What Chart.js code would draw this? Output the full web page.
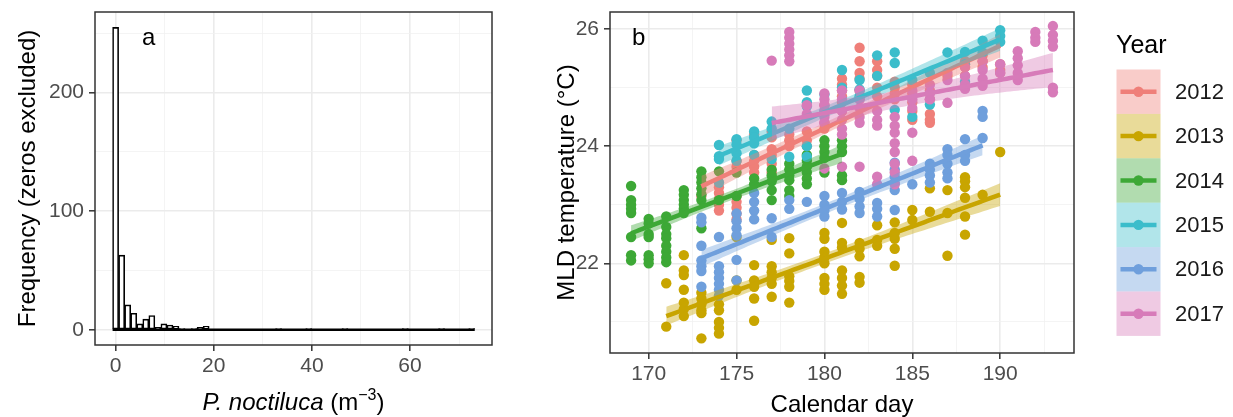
<!DOCTYPE html>
<html>
<head>
<meta charset="utf-8">
<title>P. noctiluca densities and MLD temperature</title>
<script src="https://cdn.jsdelivr.net/npm/chart.js@4.4.1/dist/chart.umd.min.js"></script>
<style>
  html, body { margin: 0; padding: 0; background: #ffffff; }
  #wrap { position: relative; width: 1233px; height: 417px; overflow: hidden; }
  #histBox { position: absolute; left: 0; top: 0; width: 500px; height: 417px; }
  #tempBox { position: absolute; left: 500px; top: 0; width: 733px; height: 417px; }
</style>
</head>
<body>
<div id="wrap">
  <div id="histBox"><canvas id="hist"></canvas></div>
  <div id="tempBox"><canvas id="temp"></canvas></div>
</div>
<script>
// ---------- Panel a: histogram of non-zero P. noctiluca densities ----------
const HIST_BIN_WIDTH = 1.23;               // m^-3 per bin, bins centred on 0, w, 2w, ...
const histCounts = [
  255, 63, 21, 14, 5, 9, 12, 2, 5, 4, 3, 1, 0, 1, 2, 3, 0, 0, 0, 0,
  0, 0, 0, 0, 0, 0, 0, 1, 0, 0, 0, 0, 1, 0, 0, 0, 0, 0, 1, 0,
  0, 0, 0, 0, 0, 0, 0, 0, 1, 0, 0, 0, 0, 0, 1, 0, 0, 0, 0, 1
];
const histXGrid = [0, 10, 20, 30, 40, 50, 60, 70];
const histXLabelled = [0, 20, 40, 60];
const histYGrid = [0, 50, 100, 150, 200, 250];
const histYLabelled = [0, 100, 200];

// ---------- Panel b: mixed-layer-depth temperature by calendar day ----------
// each row: [calendar day, temperatures (°C) measured that day ...]
const mld2012 = [
  [173, 23.15], [174, 23.3, 23.2, 23.1, 23.0, 22.9],
  [175, 24.1, 23.75, 23.65, 23.15, 23.05, 22.95, 22.85, 22.75],
  [176, 24.2, 23.85, 23.75, 23.65, 23.55], [177, 24.25, 24.15, 23.95, 23.85, 23.7, 23.55],
  [178, 24.2, 24.1, 24.0], [179, 24.25, 24.1, 24.0], [180, 24.7, 24.55, 24.4, 24.3],
  [181, 25.15, 25.05, 24.95, 24.85, 24.75, 24.6], [182, 25.68, 25.45, 25.25, 25.15, 24.95, 24.8],
  [183, 25.45, 25.3, 25.2, 25.0, 24.85], [184, 25.1, 25.0, 24.9, 24.8],
  [185, 25.05, 24.9, 24.75, 24.6, 24.45], [186, 24.95, 24.8, 24.55, 24.45, 24.4],
  [187, 25.2], [188, 25.45, 25.35, 25.2], [189, 25.55, 25.45, 25.35], [190, 25.4, 25.3, 25.25]
];
const mld2013 = [
  [171, 21.66, 20.92], [172, 22.14, 21.88, 21.8, 21.55, 21.33, 21.22, 21.1],
  [173, 21.5, 21.4, 21.3, 21.2, 21.15, 20.72], [174, 21.3, 21.2, 21.0, 20.9, 20.8],
  [175, 22.45, 21.71, 21.55], [176, 21.97, 21.71, 21.6, 21.4, 21.02],
  [177, 22.4, 21.95, 21.85, 21.75, 21.65, 21.43], [178, 22.43, 22.17, 21.78, 21.7, 21.6, 21.33],
  [180, 22.52, 22.42, 22.2, 22.1, 22.0, 21.75, 21.65, 21.55],
  [181, 22.69, 22.35, 22.27, 21.88, 21.75, 21.62, 21.48], [182, 22.35, 22.25, 22.12, 21.77, 21.67],
  [183, 22.65, 22.4, 22.3], [184, 22.7, 22.52, 22.42, 22.25, 21.96], [185, 22.91, 22.74],
  [186, 23.28, 22.88], [187, 23.25, 22.86, 22.13], [188, 23.47, 23.4, 23.3, 23.12, 22.8, 22.49],
  [189, 23.17], [190, 23.9]
];
const mld2014 = [
  [169, 23.32, 23.08, 23.0, 22.93, 22.86, 22.45, 22.14, 22.05],
  [170, 22.76, 22.68, 22.5, 22.45, 22.14, 22.07, 22.0],
  [171, 22.8, 22.62, 22.5, 22.43, 22.3, 22.2, 22.1, 22.02],
  [172, 23.25, 23.17, 23.08, 23.0, 22.93, 22.86],
  [173, 23.57, 23.47, 23.38, 23.28, 23.18, 23.08, 22.6],
  [174, 23.57, 23.08], [175, 23.55, 23.15], [176, 23.45, 23.35],
  [177, 23.6, 23.5, 23.4, 23.25, 23.08], [178, 23.7, 23.6, 23.5, 23.42, 23.25, 23.15],
  [179, 23.85, 23.75, 23.65, 23.55, 23.45, 23.35], [180, 24.1, 24.0, 23.9, 23.8, 23.55],
  [181, 24.1, 24.0, 23.9, 23.5, 23.42]
];
const mld2015 = [
  [174, 24.02, 23.83, 23.78, 23.38], [175, 24.12, 24.03, 23.88, 23.75],
  [176, 24.25, 24.15, 24.05, 23.85], [177, 24.42, 24.3, 23.78], [178, 24.3, 23.82],
  [179, 24.95, 24.75, 24.68, 24.0, 23.82], [180, 24.88, 24.6], [181, 25.3, 25.0],
  [182, 25.13, 24.97, 24.85], [183, 25.55, 25.2], [184, 25.6, 25.42, 24.62],
  [185, 25.13, 24.5], [186, 25.25, 24.71], [187, 25.6], [188, 25.61, 25.4, 25.1],
  [189, 25.8, 25.6], [190, 25.98, 25.88, 25.78]
];
const mld2016 = [
  [173, 22.78, 22.7, 22.3, 22.05, 21.95, 21.87, 21.6],
  [174, 22.45, 21.95, 21.85, 21.75, 21.65, 21.55, 21.45],
  [175, 22.85, 22.72, 22.6, 22.48, 22.06, 21.71], [176, 23.2, 23.05, 22.9, 22.75],
  [177, 22.77, 22.45], [178, 23.08, 22.93], [179, 23.05], [180, 23.15, 23.0, 22.9, 22.8],
  [181, 23.2, 23.05, 22.92], [182, 23.22, 23.1, 22.97, 22.86], [183, 23.03, 22.93, 22.8],
  [184, 23.72, 23.6, 23.48, 23.37, 23.25, 22.91], [185, 23.35],
  [186, 23.7, 23.6, 23.5, 23.38], [187, 23.95, 23.85, 23.7, 23.55, 23.45],
  [188, 24.12, 23.85, 23.75], [189, 24.6, 24.5, 24.14]
];
const mld2017 = [
  [177, 25.46], [178, 25.95, 25.85, 25.75, 25.65, 25.55, 25.45], [179, 24.7, 24.55],
  [180, 24.9, 24.8, 24.7, 24.6, 24.5, 24.4, 23.62], [181, 24.95, 24.8, 24.6, 24.45, 24.3, 24.2, 23.65],
  [182, 24.95, 24.8, 24.65, 24.5, 24.4, 23.65], [183, 24.6, 24.45, 24.35, 23.48, 23.35],
  [184, 24.5, 24.35, 24.23, 24.05, 23.9, 23.7, 23.55, 23.35], [185, 24.95, 24.8, 24.65, 24.23, 23.75],
  [186, 25.05, 24.9, 24.8], [187, 25.25, 25.13, 24.74], [188, 25.35, 25.2, 25.05, 24.98],
  [189, 25.45, 25.3, 25.15, 25.03], [190, 25.4, 25.25], [191, 25.62, 25.5, 25.38, 25.25, 25.13],
  [192, 25.95, 25.85, 25.78], [193, 26.05, 25.9, 25.8, 25.7, 25.0, 24.92]
];
const years = ['2012', '2013', '2014', '2015', '2016', '2017'];
const yearRows = [mld2012, mld2013, mld2014, mld2015, mld2016, mld2017];
const yearColours = ['#EF7F79', '#C8A500', '#3DA836', '#3BBDCB', '#6F9FDC', '#D77BB9'];
const dayGrid = [170, 172.5, 175, 177.5, 180, 182.5, 185, 187.5, 190, 192.5];
const dayLabelled = [170, 175, 180, 185, 190];
const tempGrid = [21, 22, 23, 24, 25, 26];
const tempLabelled = [22, 24, 26];

// ---------- helpers ----------
Chart.defaults.font.family = "'Liberation Sans', Arial, Helvetica, sans-serif";
Chart.defaults.color = '#000000';

const POINT_RADIUS = 5.2;

function withAlpha(hex, a) {
  const n = parseInt(hex.slice(1), 16);
  return `rgba(${(n >> 16) & 255},${(n >> 8) & 255},${n & 255},${a})`;
}

function rowsToPoints(rows) {
  return rows.flatMap(([day, ...temps]) => temps.map(t => ({ x: day, y: t })));
}

// ordinary least squares with a 95 % confidence band, as a linear smoother would draw
function linearSmooth(points, steps) {
  const n = points.length;
  const mx = points.reduce((s, p) => s + p.x, 0) / n;
  const my = points.reduce((s, p) => s + p.y, 0) / n;
  let sxx = 0, sxy = 0;
  points.forEach(p => { sxx += (p.x - mx) ** 2; sxy += (p.x - mx) * (p.y - my); });
  const slope = sxy / sxx, icpt = my - slope * mx;
  let sse = 0;
  points.forEach(p => { const r = p.y - (icpt + slope * p.x); sse += r * r; });
  const s = Math.sqrt(sse / (n - 2));
  const df = n - 2, z = 1.959964;
  const tq = z + (z ** 3 + z) / (4 * df) + (5 * z ** 5 + 16 * z ** 3 + 3 * z) / (96 * df * df);
  const xs = points.map(p => p.x);
  const lo = Math.min(...xs), hi = Math.max(...xs);
  const fit = [], upper = [], lower = [];
  for (let i = 0; i < steps; i++) {
    const x = lo + (hi - lo) * i / (steps - 1);
    const yhat = icpt + slope * x;
    const se = s * Math.sqrt(1 / n + (x - mx) ** 2 / sxx);
    fit.push({ x, y: yhat });
    upper.push({ x, y: yhat + tq * se });
    lower.push({ x, y: yhat - tq * se });
  }
  return { fit, upper, lower };
}

function gridAxis(values, labelled, opts) {
  const isMajor = v => labelled.includes(v);
  const tickVal = c => (c && c.tick) ? c.tick.value : NaN;
  return {
    type: 'linear',
    min: opts.min,
    max: opts.max,
    offset: false,
    afterBuildTicks: s => { s.ticks = values.map(v => ({ value: v })); },
    afterFit: s => {
      if (opts.width !== undefined) s.width = opts.width;
      if (opts.height !== undefined) s.height = opts.height;
      s.paddingTop = 0; s.paddingBottom = 0; s.paddingLeft = 0; s.paddingRight = 0;
    },
    ticks: {
      autoSkip: false, maxRotation: 0, minRotation: 0,
      color: '#4D4D4D', font: { size: 21 }, padding: opts.tickPad,
      callback: v => isMajor(v) ? String(v) : ''
    },
    grid: {
      offset: false, drawTicks: true, tickLength: 6, tickWidth: 1.5,
      color: c => isMajor(tickVal(c)) ? '#EBEBEB' : '#F1F1F1',
      lineWidth: c => isMajor(tickVal(c)) ? 1.6 : 0.8,
      tickColor: c => isMajor(tickVal(c)) ? '#333333' : 'rgba(0,0,0,0)'
    },
    border: { display: false },
    title: opts.title
  };
}

const panelFrame = {
  id: 'panelFrame',
  afterDatasetsDraw(chart) {
    const { ctx, chartArea: a } = chart;
    ctx.save();
    ctx.strokeStyle = '#333333';
    ctx.lineWidth = 1.5;
    ctx.strokeRect(a.left, a.top, a.right - a.left, a.bottom - a.top);
    ctx.restore();
  }
};

function panelLetter(letter, x, y) {
  return {
    id: 'panelLetter',
    afterDraw(chart) {
      const ctx = chart.ctx;
      ctx.save();
      ctx.fillStyle = '#000';
      ctx.font = "24px 'Liberation Sans', Arial, sans-serif";
      ctx.textBaseline = 'alphabetic';
      ctx.textAlign = 'left';
      ctx.fillText(letter, x, y);
      ctx.restore();
    }
  };
}

// x-axis title with italic species name and superscript unit
const speciesTitle = {
  id: 'speciesTitle',
  afterDraw(chart) {
    const { ctx, chartArea: a } = chart;
    const parts = [
      { t: 'P. noctiluca', f: "italic 24px 'Liberation Sans', Arial, sans-serif", dy: 0 },
      { t: ' (m', f: "24px 'Liberation Sans', Arial, sans-serif", dy: 0 },
      { t: '\u22123', f: "16px 'Liberation Sans', Arial, sans-serif", dy: -10 },
      { t: ')', f: "24px 'Liberation Sans', Arial, sans-serif", dy: 0 }
    ];
    ctx.save();
    ctx.fillStyle = '#000';
    ctx.textBaseline = 'alphabetic';
    ctx.textAlign = 'left';
    let total = 0;
    parts.forEach(p => { ctx.font = p.f; p.w = ctx.measureText(p.t).width; total += p.w; });
    let x = (a.left + a.right) / 2 - total / 2;
    const base = 410;
    parts.forEach(p => { ctx.font = p.f; ctx.fillText(p.t, x, base + p.dy); x += p.w; });
    ctx.restore();
  }
};

const yearLegend = {
  id: 'yearLegend',
  afterDraw(chart) {
    const ctx = chart.ctx;
    const left = 616.5, top = 69.5, keyW = 44, keyH = 44.4;
    ctx.save();
    ctx.fillStyle = '#000';
    ctx.font = "25px 'Liberation Sans', Arial, sans-serif";
    ctx.textBaseline = 'alphabetic';
    ctx.textAlign = 'left';
    ctx.fillText('Year', 616, 53);
    years.forEach((yr, k) => {
      const y0 = top + k * keyH, cy = y0 + keyH / 2;
      ctx.fillStyle = withAlpha(yearColours[k], 0.4);
      ctx.fillRect(left, y0, keyW, keyH);
      ctx.strokeStyle = yearColours[k];
      ctx.lineWidth = 4.5;
      ctx.beginPath();
      ctx.moveTo(left + 4, cy);
      ctx.lineTo(left + keyW - 4, cy);
      ctx.stroke();
      ctx.fillStyle = yearColours[k];
      ctx.beginPath();
      ctx.arc(left + keyW / 2, cy, POINT_RADIUS, 0, Math.PI * 2);
      ctx.fill();
      ctx.fillStyle = '#1a1a1a';
      ctx.font = "22px 'Liberation Sans', Arial, sans-serif";
      ctx.textBaseline = 'middle';
      ctx.fillText(yr, 675, cy + 1);
      ctx.textBaseline = 'alphabetic';
    });
    ctx.restore();
  }
};

// ---------- panel a chart ----------
const histBars = histCounts.map((c, i) => ({ x: i * HIST_BIN_WIDTH, y: c }));
const histBase = [
  { x: -HIST_BIN_WIDTH / 2, y: 0 },
  { x: (histCounts.length - 0.5) * HIST_BIN_WIDTH, y: 0 }
];

new Chart(document.getElementById('hist'), {
  type: 'bar',
  data: {
    datasets: [
      {
        type: 'bar', data: histBars, backgroundColor: '#ffffff', borderColor: '#000000',
        borderWidth: 1.6, borderSkipped: false, barPercentage: 1, categoryPercentage: 1,
        grouped: false, order: 2
      },
      {
        type: 'line', data: histBase, borderColor: '#000000', borderWidth: 2.4,
        pointRadius: 0, fill: false, order: 1
      }
    ]
  },
  options: {
    responsive: true, maintainAspectRatio: false, animation: false, events: [],
    layout: { padding: { top: 12, right: 8, left: 0, bottom: 0 } },
    plugins: { legend: { display: false }, tooltip: { enabled: false } },
    scales: {
      x: gridAxis(histXGrid, histXLabelled, {
        min: -4.2, max: 76.7, height: 72, tickPad: 3, title: { display: false }
      }),
      y: gridAxis(histYGrid, histYLabelled, {
        min: -12.8, max: 268, width: 95, tickPad: 5,
        title: {
          display: true, text: 'Frequency (zeros excluded)', color: '#000',
          font: { size: 24, lineHeight: 1 }, padding: { top: 16, bottom: 0 }
        }
      })
    }
  },
  plugins: [panelFrame, speciesTitle, panelLetter('a', 142, 45)]
});

// ---------- panel b chart ----------
const tempDatasets = [];
let drawSeq = 0;
const yearPoints = yearRows.map(rowsToPoints);
yearPoints.forEach((pts, k) => {
  tempDatasets.push({
    type: 'scatter', label: years[k], data: pts, backgroundColor: yearColours[k],
    borderWidth: 0, pointRadius: POINT_RADIUS, order: 1000 - drawSeq++
  });
});
yearPoints.forEach((pts, k) => {
  const sm = linearSmooth(pts, 80);
  tempDatasets.push({
    type: 'line', data: sm.upper, borderWidth: 0, pointRadius: 0,
    backgroundColor: withAlpha(yearColours[k], 0.4), fill: '+1', order: 1000 - drawSeq++
  });
  tempDatasets.push({
    type: 'line', data: sm.lower, borderWidth: 0, pointRadius: 0, fill: false,
    order: 1000 - drawSeq++
  });
  tempDatasets.push({
    type: 'line', data: sm.fit, borderColor: yearColours[k], borderWidth: 4.5,
    pointRadius: 0, fill: false, order: 1000 - drawSeq++
  });
});

new Chart(document.getElementById('temp'), {
  type: 'scatter',
  data: { datasets: tempDatasets },
  options: {
    responsive: true, maintainAspectRatio: false, animation: false, events: [],
    layout: { padding: { top: 12, right: 159, left: 0, bottom: 0 } },
    plugins: { legend: { display: false }, tooltip: { enabled: false } },
    scales: {
      x: gridAxis(dayGrid, dayLabelled, {
        min: 167.8, max: 194.2, height: 64, tickPad: 3,
        title: {
          display: true, text: 'Calendar day', color: '#000',
          font: { size: 24, lineHeight: 1 }, padding: { top: 0, bottom: 0 }
        }
      }),
      y: gridAxis(tempGrid, tempLabelled, {
        min: 20.47, max: 26.29, width: 110, tickPad: 5,
        title: {
          display: true, text: 'MLD temperature (\u00B0C)', color: '#000',
          font: { size: 24, lineHeight: 1 }, padding: { top: 55, bottom: 0 }
        }
      })
    }
  },
  plugins: [panelFrame, yearLegend, panelLetter('b', 132, 45)]
});
</script>
</body>
</html>
